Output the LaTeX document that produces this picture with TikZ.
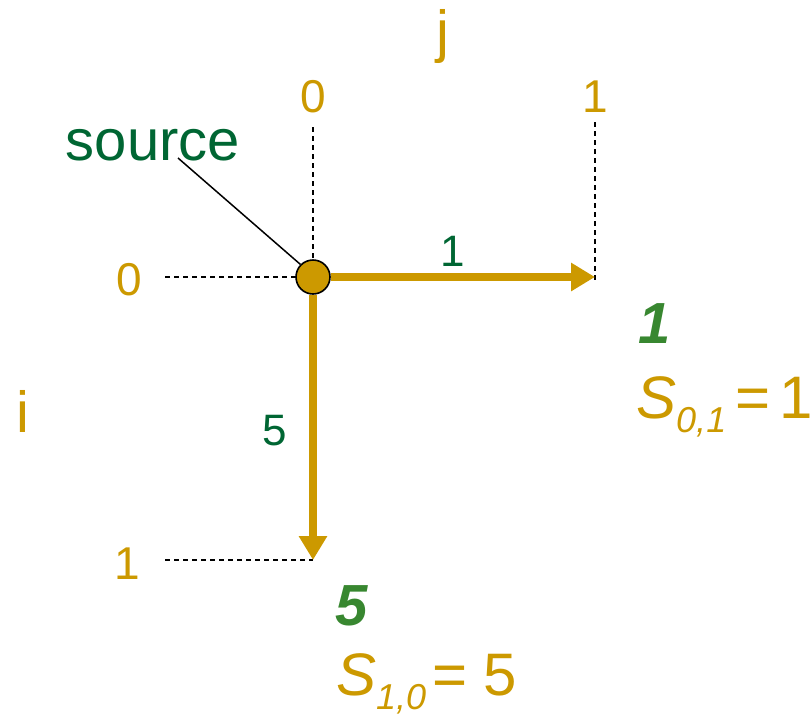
\documentclass[tikz,border=0pt]{standalone}
\usepackage{fontspec}
\setmainfont{Liberation Sans}
\usetikzlibrary{arrows.meta}
\definecolor{gold}{RGB}{204,153,0}
\definecolor{dgreen}{RGB}{0,102,51}
\definecolor{lgreen}{RGB}{56,135,48}
\tikzset{
  axislbl/.style={text=gold,font=\fontsize{46}{50}\selectfont,inner sep=0pt,anchor=base},
  letterlbl/.style={text=gold,font=\fontsize{58}{64}\selectfont,inner sep=0pt,anchor=base},
  edgelbl/.style={text=dgreen,font=\fontsize{44}{48}\selectfont,inner sep=0pt,anchor=base},
  distlbl/.style={text=lgreen,font=\fontsize{58}{64}\selectfont\bfseries\itshape,inner sep=0pt,anchor=base},
  eqlbl/.style={text=gold,font=\fontsize{60}{66}\selectfont,inner sep=0pt,anchor=base west},
  guide/.style={black,line width=1.3pt,dash pattern=on 5pt off 4pt},
  edge/.style={gold,line width=8pt,-{Triangle[length=24pt,width=27pt]}},
}
\newcommand{\subsc}[1]{\raisebox{-14pt}{\fontsize{36}{38}\selectfont\itshape #1}}
\begin{document}
\begin{tikzpicture}[x=1pt,y=-1pt]
\useasboundingbox (0,0) rectangle (811,721);
% coordinates
\coordinate (t0) at (313,127);
\coordinate (t1) at (595,122);
\coordinate (h1) at (595,280);
\coordinate (l0) at (165,277);
\coordinate (l1) at (165,560);
\coordinate (v1) at (313,560);
% guide lines
\draw[guide] (t0) -- (313,262);
\draw[guide] (l0) -- (297,277);
\draw[guide] (t1) -- (h1);
\draw[guide] (l1) -- (v1);
% source node
\node[circle,fill=gold,draw=black,line width=1.6pt,minimum size=34pt,inner sep=0pt] (src) at (313,277) {};
% edges
\draw[edge] (src.east) -- (h1 |- src.east);
\draw[edge] (src.south) -- (v1);
% axis labels
\node[letterlbl] (jl) at (443,51) {j};
\node[letterlbl] (il) at (23,432) {i};
\node[axislbl] (c0) at (313,112) {0};
\node[axislbl] (c1) at (595,112) {1};
\node[axislbl] (r0) at (129,295) {0};
\node[axislbl] (r1) at (127,579) {1};
% source label
\node[text=dgreen,font=\fontsize{58}{64}\selectfont,inner sep=0pt,anchor=base] (srclbl) at (153,160) {source};
\coordinate (sl) at (178,158);
\draw[black,line width=1.5pt] (sl) -- (src.north west);
% edge weights
\node[edgelbl] (w1) at (453,266) {1};
\node[edgelbl] (w5) at (275,445) {5};
% distances
\node[distlbl] (d1) at (655,343) {1};
\node[distlbl] (d5) at (352,625) {5};
\node[eqlbl] (e1) at (636,418) {\textit{S}\subsc{0,1}\hspace{9pt}=\hspace{9pt}1};
\node[eqlbl] (e5) at (336,695) {\textit{S}\subsc{1,0}\hspace{6pt}= 5};
\end{tikzpicture}
\end{document}
